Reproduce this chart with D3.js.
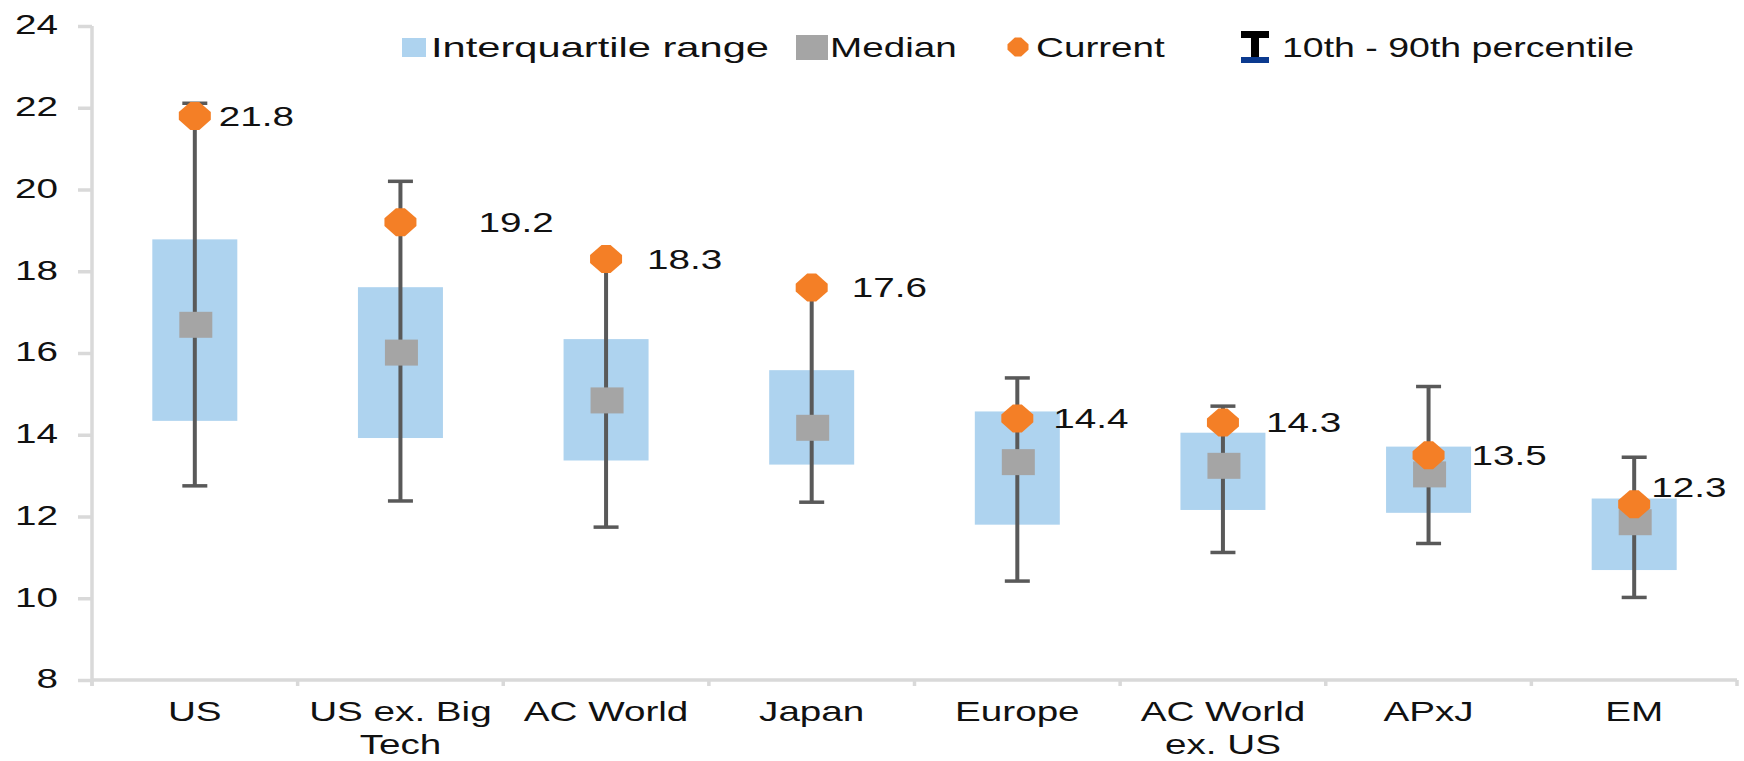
<!DOCTYPE html>
<html>
<head>
<meta charset="utf-8">
<script src="https://cdn.jsdelivr.net/npm/d3@7"></script>
<style>
  html, body { margin: 0; padding: 0; background: #fff; }
  svg { display: block; }
  text { font-family: "Liberation Sans", Arial, sans-serif; fill: #111; }
</style>
</head>
<body>
<svg id="chart" width="1744" height="761"></svg>
<script>
// ---- data ----
const categories = ["US", "US ex. Big Tech", "AC World", "Japan", "Europe", "AC World ex. US", "APxJ", "EM"];
const categoryLines = [["US"], ["US ex. Big", "Tech"], ["AC World"], ["Japan"], ["Europe"], ["AC World", "ex. US"], ["APxJ"], ["EM"]];
const p10 = [12.75, 12.38, 11.74, 12.35, 10.42, 11.12, 11.34, 10.02];
const p25 = [14.34, 13.92, 13.37, 13.27, 11.8, 12.16, 12.09, 10.69];
const median = [16.69, 16.01, 14.84, 14.17, 13.33, 13.24, 13.03, 11.86];
const p75 = [18.78, 17.61, 16.34, 15.58, 14.57, 14.05, 13.71, 12.44];
const p90 = [22.11, 20.2, 18.38, 17.68, 15.39, 14.7, 15.18, 13.45];
const current = [21.8, 19.2, 18.3, 17.6, 14.4, 14.3, 13.5, 12.3];
const yTicks = [8, 10, 12, 14, 16, 18, 20, 22, 24];
const legendLabels = ["Interquartile range", "Median", "Current", "10th - 90th percentile"];

// ---- layout (not data) ----
const labelDx = [24, 78, 41, 40, 36, 43, 43, 17];
const labelDy = [0, 0, 0, 0, 0, 0, 0, -17];
const SX = 1.38, FS = 28;
const colors = { iqr: "#AED3EF", median: "#A5A5A5", current: "#F47F26", whisker: "#595959", axis: "#D9D9D9" };

const svg = d3.select("#chart");
const x = d3.scaleBand().domain(categories).range([92, 1737]).padding(0);
const y = d3.scaleLinear().domain([8, 24]).range([680, 26]);
const cx = c => x(c) + x.bandwidth() / 2;

function stretchText(sel, tx, ty, anchor) {
  return sel.attr("transform", `translate(${tx},${ty}) scale(${SX},1)`)
    .attr("text-anchor", anchor).style("font-size", FS + "px");
}

// ---- y axis ----
const yAxis = svg.append("g").attr("transform", "translate(92,0)")
  .call(d3.axisLeft(y).tickValues(yTicks).tickSize(14).tickFormat(d3.format("d")));
yAxis.select(".domain").attr("stroke", colors.axis).attr("stroke-width", 3.5)
  .attr("d", `M0,${y(24)}V${y(8) + 6}`);
yAxis.selectAll(".tick line").attr("stroke", colors.axis).attr("stroke-width", 3.5);
yAxis.selectAll(".tick text").attr("x", null).attr("dy", "0.35em")
  .attr("transform", `translate(-34,-2) scale(${SX},1)`)
  .attr("text-anchor", "end").attr("fill", "#111")
  .style("font-size", FS + "px").style("font-family", "Liberation Sans, Arial, sans-serif");

// ---- x axis ----
const xAxis = svg.append("g").attr("transform", `translate(0,${y(8)})`)
  .call(d3.axisBottom(x).tickSize(0).tickFormat(""));
xAxis.select(".domain").attr("stroke", colors.axis).attr("stroke-width", 3.5)
  .attr("d", `M92,0H${x.range()[1]}`);
const bounds = categories.map(c => x(c)).concat([x.range()[1]]);
xAxis.selectAll("line.bound").data(bounds).join("line").attr("class", "bound")
  .attr("x1", d => d).attr("x2", d => d).attr("y1", 0).attr("y2", 6)
  .attr("stroke", colors.axis).attr("stroke-width", 3.5);

const xl = svg.append("g");
categories.forEach((c, i) => {
  categoryLines[i].forEach((line, j) => {
    stretchText(xl.append("text").text(line), cx(c), 721 + j * 33, "middle");
  });
});

// ---- marks ----
const g = svg.append("g");
const boxW = 85, capW = 25, medW = 33, medH = 26;
g.selectAll("rect.iqr").data(categories).join("rect").attr("class", "iqr")
  .attr("x", c => cx(c) - boxW / 2).attr("width", boxW)
  .attr("y", (c, i) => y(p75[i])).attr("height", (c, i) => y(p25[i]) - y(p75[i]))
  .attr("fill", colors.iqr);
g.selectAll("line.whisk").data(categories).join("line").attr("class", "whisk")
  .attr("x1", cx).attr("x2", cx)
  .attr("y1", (c, i) => y(p90[i])).attr("y2", (c, i) => y(p10[i]))
  .attr("stroke", colors.whisker).attr("stroke-width", 4);
[p90, p10].forEach(arr => {
  g.selectAll(null).data(categories).join("line")
    .attr("x1", c => cx(c) - capW / 2).attr("x2", c => cx(c) + capW / 2)
    .attr("y1", (c, i) => y(arr[i])).attr("y2", (c, i) => y(arr[i]))
    .attr("stroke", colors.whisker).attr("stroke-width", 3.5);
});
g.selectAll("rect.med").data(categories).join("rect").attr("class", "med")
  .attr("x", c => cx(c) - medW / 2 + 1).attr("width", medW)
  .attr("y", (c, i) => y(median[i]) - medH / 2).attr("height", medH)
  .attr("fill", colors.median);

const oct = (w, h, f) => {
  const a = w / 2, b = h / 2, fx = f * a, fy = f * b;
  return `M${-fx},${-b}L${fx},${-b}L${a},${-fy}L${a},${fy}L${fx},${b}L${-fx},${b}L${-a},${fy}L${-a},${-fy}Z`;
};
g.selectAll("path.cur").data(categories).join("path").attr("class", "cur")
  .attr("transform", (c, i) => `translate(${cx(c)},${y(current[i])})`)
  .attr("d", oct(32, 28, 0.28)).attr("fill", colors.current);

const lab = svg.append("g");
categories.forEach((c, i) => {
  stretchText(lab.append("text").text(d3.format(".1f")(current[i])).attr("dy", "0.35em"),
    cx(c) + labelDx[i], y(current[i]) + labelDy[i], "start");
});

// ---- legend ----
const lg = svg.append("g");
lg.append("rect").attr("x", 402).attr("y", 38).attr("width", 24).attr("height", 19).attr("fill", colors.iqr);
stretchText(lg.append("text").text(legendLabels[0]), 431, 57, "start")
  .attr("textLength", 338 / SX).attr("lengthAdjust", "spacingAndGlyphs");
lg.append("rect").attr("x", 796).attr("y", 35).attr("width", 32).attr("height", 25).attr("fill", colors.median);
stretchText(lg.append("text").text(legendLabels[1]), 830, 57, "start");
lg.append("path").attr("transform", "translate(1018,47)").attr("d", oct(21, 19, 0.3)).attr("fill", colors.current);
stretchText(lg.append("text").text(legendLabels[2]), 1036, 57, "start");
lg.append("rect").attr("x", 1241).attr("y", 31).attr("width", 28).attr("height", 7).attr("fill", "#000");
lg.append("rect").attr("x", 1251).attr("y", 31).attr("width", 8).attr("height", 30).attr("fill", "#000");
lg.append("rect").attr("x", 1241).attr("y", 57).attr("width", 28).attr("height", 6).attr("fill", "#0B3A8F");
stretchText(lg.append("text").text(legendLabels[3]), 1282, 57, "start")
  .attr("textLength", 352 / SX).attr("lengthAdjust", "spacingAndGlyphs");
</script>
</body>
</html>
